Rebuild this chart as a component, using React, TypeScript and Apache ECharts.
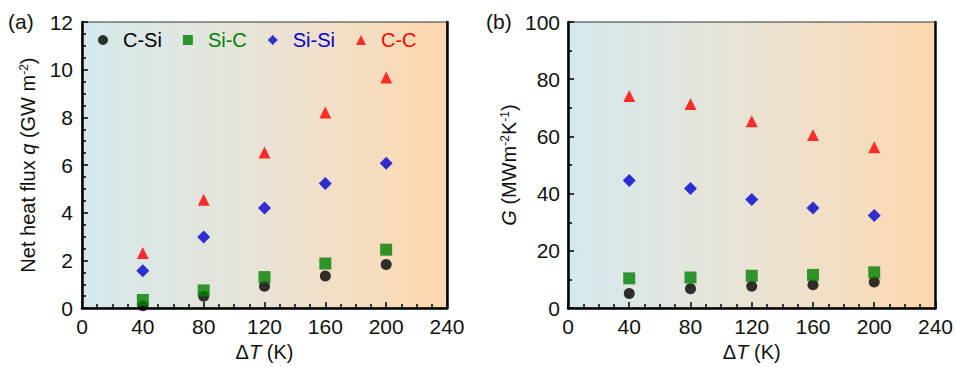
import React, { useEffect, useRef } from "react";
import * as echarts from "echarts";

const xTicks = [0, 40, 80, 120, 160, 200, 240];
const deltaT = [40, 80, 120, 160, 200];
const seriesNames = ["C-Si", "Si-C", "Si-Si", "C-C"];
const seriesColors = ["#000000", "#008000", "#0000d0", "#ff0000"];
const seriesSymbols = ["circle", "rect", "diamond", "triangle"];
const seriesSizes = [11, 12, 13, 12];

// panel (a): net heat flux q (GW m^-2)
const fluxCSi = [0.1, 0.5, 0.92, 1.35, 1.83];
const fluxSiC = [0.34, 0.74, 1.3, 1.87, 2.45];
const fluxSiSi = [1.57, 2.98, 4.2, 5.23, 6.08];
const fluxCC = [2.31, 4.54, 6.53, 8.2, 9.67];

// panel (b): G (MW m^-2 K^-1)
const gCSi = [5.1, 6.8, 7.6, 8.2, 9.1];
const gSiC = [10.4, 10.7, 11.3, 11.6, 12.5];
const gSiSi = [44.6, 41.8, 38.0, 35.0, 32.4];
const gCC = [74.1, 71.3, 65.3, 60.5, 56.2];

const FONT = "'Liberation Sans', Arial, sans-serif";

export default function App() {
  const ref = useRef<HTMLDivElement>(null);
  useEffect(() => {
    document.body.style.margin = "0";
    if (!ref.current) return;
    const chart = echarts.init(ref.current, null, { renderer: "svg" });
    const mkBg = () =>
      new echarts.graphic.LinearGradient(0, 0, 1, 0, [
        { offset: 0, color: "#d4e9ed" },
        { offset: 0.5, color: "#e9e3d5" },
        { offset: 1, color: "#fdd8ae" },
      ]);
    const rich = {
      i: { fontStyle: "italic", fontSize: 20, fontFamily: FONT, color: "#111" },
      sup: { fontSize: 12, verticalAlign: "top", fontFamily: FONT, color: "#111", padding: [0, 0, 7, 0] },
    };
    const thickLine = { show: true, onZero: false, lineStyle: { color: "#000", width: 2.5 } };
    const xAxisBase = (gridIndex: number) => ({
      type: "value",
      gridIndex,
      min: 0,
      max: 240,
      interval: 40,
      name: "Δ{i|T} (K)",
      nameLocation: "middle",
      nameGap: 31,
      nameTextStyle: { fontSize: 20, fontFamily: FONT, color: "#111", rich },
      axisLine: thickLine,
      axisTick: { show: true, inside: true, length: 6, lineStyle: { color: "#000", width: 1.5 } },
      minorTick: { show: true, splitNumber: 4, length: 4, lineStyle: { color: "#000", width: 1.5 } },
      axisLabel: {
        fontSize: 21,
        fontFamily: FONT,
        color: "#111",
        margin: 8,
        formatter: (v: number) => (xTicks.includes(v) ? String(v) : ""),
      },
      splitLine: { show: false },
    });
    const rightFrame = (gridIndex: number) => ({
      type: "value",
      gridIndex,
      position: "right",
      min: 0,
      max: 1,
      axisLine: thickLine,
      axisTick: { show: false },
      axisLabel: { show: false },
      splitLine: { show: false },
    });
    const series: any[] = [];
    const fluxData = [fluxCSi, fluxSiC, fluxSiSi, fluxCC];
    const gData = [gCSi, gSiC, gSiSi, gCC];
    [fluxData, gData].forEach((set, gi) => {
      set.forEach((vals, si) => {
        series.push({
          type: "scatter",
          name: seriesNames[si],
          xAxisIndex: gi,
          yAxisIndex: gi,
          symbol: seriesSymbols[si],
          symbolSize: seriesSizes[si],
          itemStyle: { color: seriesColors[si] },
          data: deltaT.map((x, k) => [x, vals[k]]),
        });
      });
    });
    chart.setOption({
      animation: false,
      textStyle: { fontFamily: FONT },
      grid: [
        {
          left: 82,
          right: 509,
          top: 22,
          bottom: 53,
          show: true,
          backgroundColor: mkBg(),
          borderColor: "#333",
          borderWidth: 1,
        },
        {
          left: 568,
          right: 20,
          top: 22,
          bottom: 53,
          show: true,
          backgroundColor: mkBg(),
          borderColor: "#333",
          borderWidth: 1,
        },
      ],
      legend: {
        left: 98,
        top: 30,
        padding: 0,
        itemWidth: 10,
        itemHeight: 10,
        itemGap: 21,
        textStyle: { fontSize: 20, fontFamily: FONT, padding: [0, 0, 0, 10] },
        data: seriesNames.map((n, i) => ({ name: n, textStyle: { color: seriesColors[i] } })),
      },
      xAxis: [xAxisBase(0), xAxisBase(1)],
      yAxis: [
        {
          type: "value",
          gridIndex: 0,
          min: 0,
          max: 12,
          interval: 2,
          name: "Net heat flux {i|q} (GW m{sup|-2})",
          nameLocation: "middle",
          nameGap: 44,
          nameTextStyle: { fontSize: 20, fontFamily: FONT, color: "#111", rich },
          axisLine: thickLine,
          axisTick: { show: true, inside: true, length: 6, lineStyle: { color: "#000", width: 1.5 } },
          minorTick: { show: true, splitNumber: 4, length: 4, lineStyle: { color: "#000", width: 1.5 } },
          axisLabel: { fontSize: 21, fontFamily: FONT, color: "#111", margin: 9 },
          splitLine: { show: false },
        },
        {
          type: "value",
          gridIndex: 1,
          min: 0,
          max: 100,
          interval: 20,
          name: "{i|G} (MWm{sup|-2}K{sup|-1})",
          nameLocation: "middle",
          nameGap: 49,
          nameTextStyle: { fontSize: 20, fontFamily: FONT, color: "#111", rich },
          axisLine: thickLine,
          axisTick: { show: true, inside: true, length: 6, lineStyle: { color: "#000", width: 1.5 } },
          minorTick: { show: true, splitNumber: 2, length: 4, lineStyle: { color: "#000", width: 1.5 } },
          axisLabel: { fontSize: 21, fontFamily: FONT, color: "#111", margin: 8 },
          splitLine: { show: false },
        },
        rightFrame(0),
        rightFrame(1),
      ],
      graphic: [
        { type: "text", left: 8, top: 11, style: { text: "(a)", fontSize: 21, fontFamily: FONT, fill: "#111" } },
        { type: "text", left: 486, top: 11, style: { text: "(b)", fontSize: 21, fontFamily: FONT, fill: "#111" } },
      ],
      series,
    });
    return () => chart.dispose();
  }, []);
  return <div ref={ref} style={{ width: 956, height: 367 }} />;
}
